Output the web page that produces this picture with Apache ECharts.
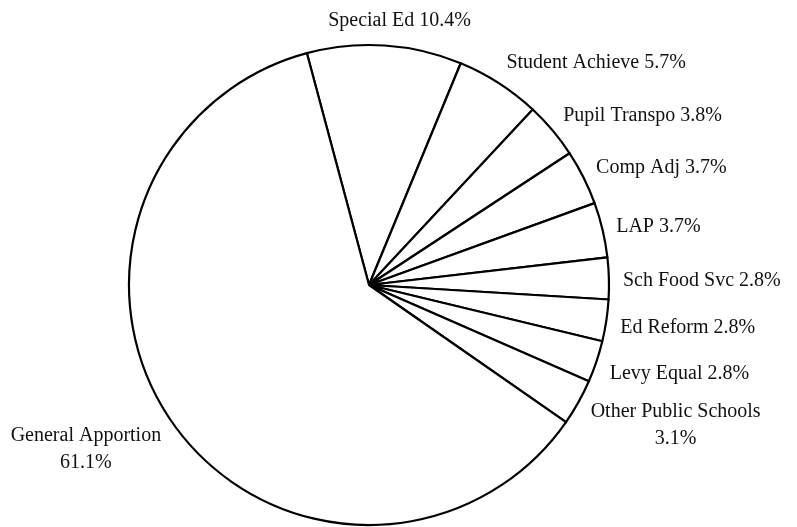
<!DOCTYPE html>
<html>
<head>
<meta charset="utf-8">
<style>
  html, body { margin: 0; padding: 0; background: #ffffff; }
  #chart { width: 797px; height: 527px; }
</style>
<script src="https://cdn.jsdelivr.net/npm/echarts@6/dist/echarts.min.js"></script>
</head>
<body>
<div id="chart"></div>
<script>
// Budget shares by program, listed clockwise from the top
const categories = [
  'Special Ed', 'Student Achieve', 'Pupil Transpo', 'Comp Adj', 'LAP',
  'Sch Food Svc', 'Ed Reform', 'Levy Equal', 'Other Public Schools', 'General Apportion'
];
const shares = [10.4, 5.7, 3.8, 3.7, 3.7, 2.8, 2.8, 2.8, 3.1, 61.1];

const CENTER = [369, 285];
const RADIUS = 240;
const START_ANGLE = 105;
const LABEL_GAP = 14;
const LABEL_DROP = 3;

const total = shares.reduce((a, b) => a + b, 0);

// Mid-angle direction of a slice in screen coordinates
function sliceDirection(i) {
  let before = 0;
  for (let k = 0; k < i; k++) before += shares[k];
  const mid = START_ANGLE - (before + shares[i] / 2) / total * 360;
  const rad = mid * Math.PI / 180;
  return [Math.cos(rad), -Math.sin(rad)];
}

const clamp = (v, lo, hi) => Math.max(lo, Math.min(hi, v));

const chart = echarts.init(document.getElementById('chart'), null, { renderer: 'canvas' });
chart.setOption({
  animation: false,
  backgroundColor: '#ffffff',
  series: [{
    type: 'pie',
    center: CENTER,
    radius: RADIUS,
    startAngle: START_ANGLE,
    clockwise: true,
    avoidLabelOverlap: false,
    silent: true,
    itemStyle: { color: '#ffffff', borderColor: '#000000', borderWidth: 2.2 },
    label: {
      show: true,
      position: 'outside',
      fontFamily: '"Liberation Serif", "Times New Roman", serif',
      fontSize: 20,
      lineHeight: 27,
      color: '#111111',
      formatter: p => p.name + (p.name.length > 16 ? '\n' : ' ') + p.value.toFixed(1) + '%'
    },
    labelLine: { show: false },
    // place each label just beyond the rim along its slice's mid direction
    labelLayout: params => {
      const d = sliceDirection(params.dataIndex);
      const w = params.labelRect.width;
      const h = params.labelRect.height;
      const reach = RADIUS + LABEL_GAP;
      return {
        x: CENTER[0] + d[0] * reach + clamp(3 * d[0], -1, 1) * w / 2,
        y: CENTER[1] + d[1] * reach + d[1] * h / 2 + LABEL_DROP,
        align: 'center',
        verticalAlign: 'middle'
      };
    },
    emphasis: { disabled: true },
    data: categories.map((name, i) => ({ name: name, value: shares[i] }))
  }]
});
</script>
</body>
</html>
